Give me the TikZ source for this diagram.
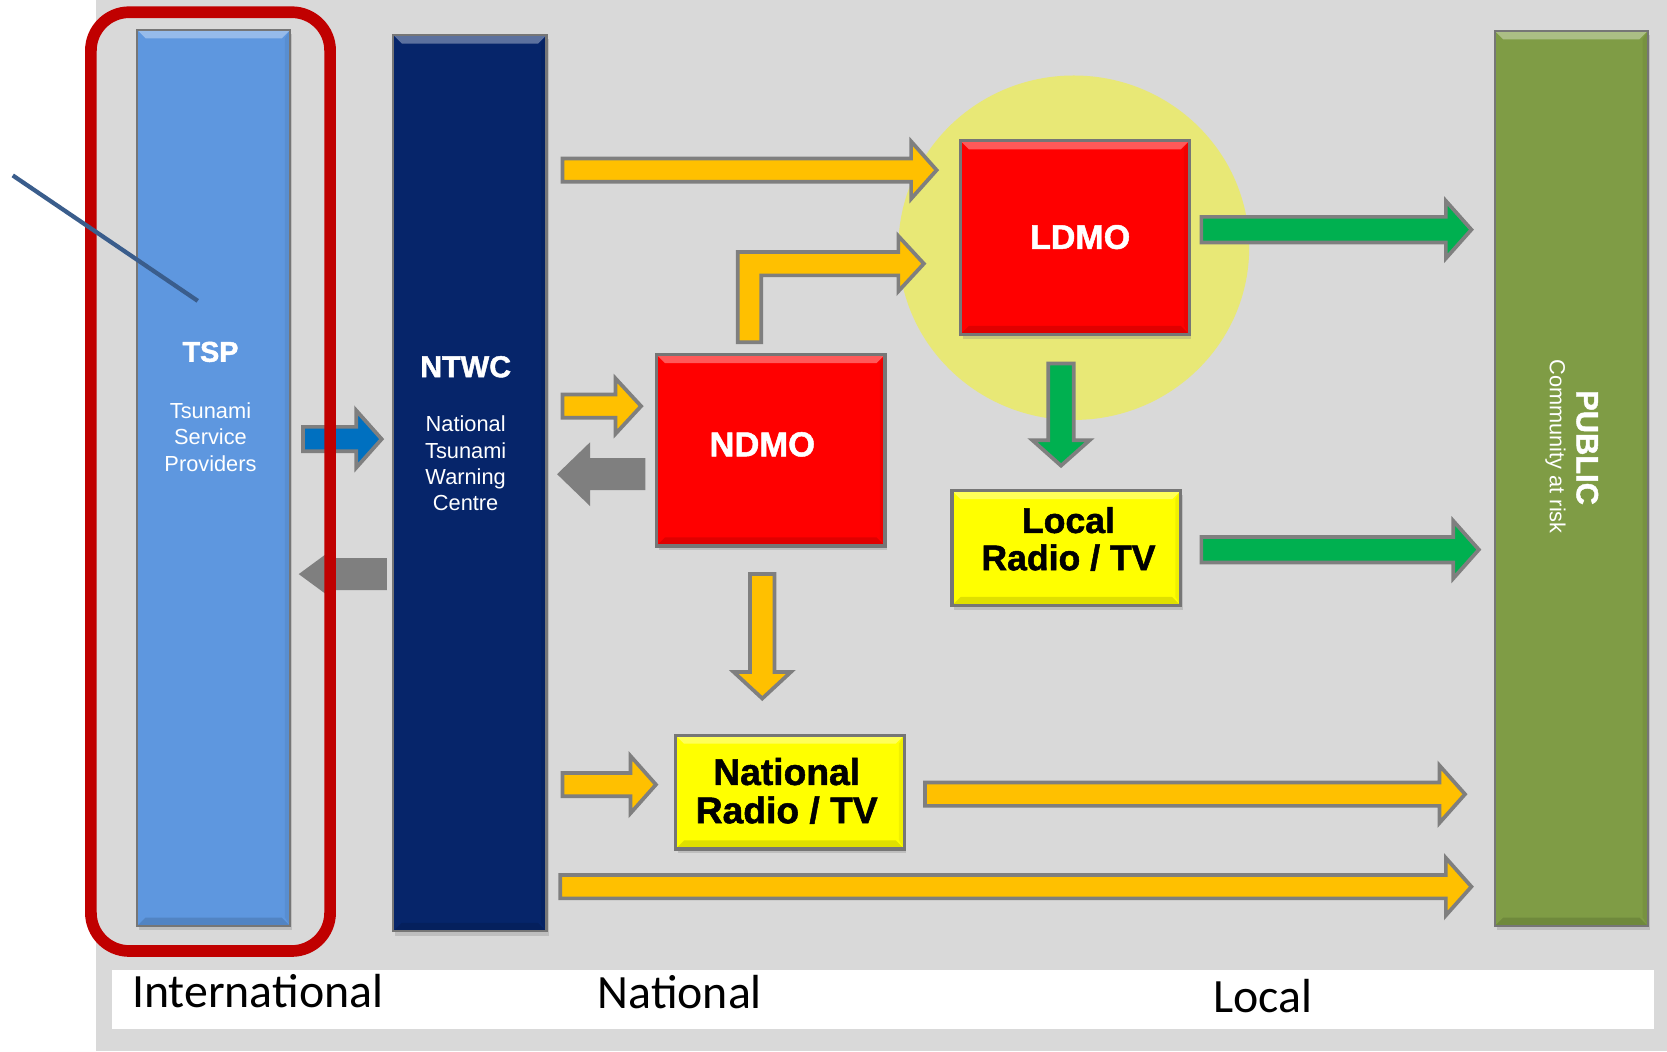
\documentclass[tikz,border=0pt]{standalone}
\usepackage{fontspec}
\setmainfont{Liberation Sans}[BoldFeatures={FakeBold=1.4}]
\newfontfamily\labelfont{Carlito}
\usetikzlibrary{calc,shadows}

\definecolor{bggray}{HTML}{D9D9D9}
\definecolor{tspblue}{HTML}{5E97DF}
\definecolor{ntwcnavy}{HTML}{06256A}
\definecolor{pubgreen}{HTML}{7F9C45}
\definecolor{boxred}{HTML}{FF0000}
\definecolor{boxyellow}{HTML}{FFFF00}
\definecolor{zoneyellow}{HTML}{E8E876}
\definecolor{arrorange}{HTML}{FFC000}
\definecolor{arrgreen}{HTML}{00B050}
\definecolor{arrblue}{HTML}{0070C0}
\definecolor{arrgray}{HTML}{7F7F7F}
\definecolor{framered}{HTML}{C00000}
\definecolor{slashblue}{HTML}{3A5D8C}
\definecolor{edgegray}{HTML}{767676}

% block arrow from coordinate #2 to coordinate #3:
% #4 half shaft width, #5 half head width, #6 head length
\newcommand{\blockarrow}[6][]{%
  \path[#1] let \p1=(#2), \p2=(#3), \n1={atan2(\y2-\y1,\x2-\x1)} in
    ($(#2)+({\n1+90}:#4)$)
    -- ($(#3)+({\n1+180}:#6)+({\n1+90}:#4)$)
    -- ($(#3)+({\n1+180}:#6)+({\n1+90}:#5)$)
    -- (#3)
    -- ($(#3)+({\n1+180}:#6)+({\n1-90}:#5)$)
    -- ($(#3)+({\n1+180}:#6)+({\n1-90}:#4)$)
    -- ($(#2)+({\n1-90}:#4)$) -- cycle;}

\newcommand{\fsz}[2]{\fontsize{#1}{#2}\selectfont}

\begin{document}
\begin{tikzpicture}[x=1pt,y=-1pt,
  bevel/.style={path picture={
    \fill[white,opacity=.35] (path picture bounding box.north west) -- (path picture bounding box.north east)
      -- ([shift={(-8pt,-8pt)}]path picture bounding box.north east) -- ([shift={(8pt,-8pt)}]path picture bounding box.north west) -- cycle;
    \fill[black,opacity=.12] (path picture bounding box.south west) -- (path picture bounding box.south east)
      -- ([shift={(-8pt,8pt)}]path picture bounding box.south east) -- ([shift={(8pt,8pt)}]path picture bounding box.south west) -- cycle;
    \fill[black,opacity=.06] (path picture bounding box.north east) -- (path picture bounding box.south east)
      -- ([shift={(-5pt,8pt)}]path picture bounding box.south east) -- ([shift={(-5pt,-8pt)}]path picture bounding box.north east) -- cycle;}},
  shade3d/.style={drop shadow={shadow xshift=2pt,shadow yshift=-4pt,opacity=.3}},
  bar/.style={draw=edgegray,line width=2pt,anchor=north west,inner sep=0pt,
    minimum width=144pt,shade3d,bevel},
  box/.style={draw=edgegray,line width=3pt,anchor=north west,inner sep=0pt,
    minimum width=215pt,shade3d,bevel},
  wtext/.style={text=white,align=center,inner sep=0pt},
  btext/.style={text=black,align=center,inner sep=0pt},
  orangearr/.style={fill=arrorange,draw=arrgray,line width=3.5pt,line join=miter},
  greenarr/.style={fill=arrgreen,draw=arrgray,line width=3.5pt,line join=miter},
  bluearr/.style={fill=arrblue,draw=arrgray,line width=3.5pt,line join=miter},
  grayarr/.style={fill=arrgray},
  levellabel/.style={anchor=base west,inner sep=0pt,font=\labelfont\fsz{45}{50}}
]
\useasboundingbox (0,0) rectangle (1568,989);
\fill[white] (0,0) rectangle (1568,989);
\fill[bggray] (90,0) rectangle (1568,989);

% level strip
\fill[white] (105,912) rectangle (1556,968);
\node[levellabel] (lvl-int) at (124,948) {International};
\node[levellabel] (lvl-nat) at (562,949) {National};
\node[levellabel] (lvl-loc) at (1141,952) {Local};

% local zone
\fill[zoneyellow] (1010,233) ellipse [x radius=165pt, y radius=162pt];

% columns
\node[bar,fill=tspblue,minimum height=843pt] (tsp) at (128,27) {};
\node[bar,fill=ntwcnavy,minimum height=843pt] (ntwc) at (369,32) {};
\node[bar,fill=pubgreen,minimum height=842pt] (public) at (1405,28) {};

% agencies and media
\node[box,fill=boxred,minimum height=182pt] (ldmo) at (902,131) {};
\node[box,fill=boxred,minimum height=180pt] (ndmo) at (616,332) {};
\node[box,fill=boxyellow,minimum height=108pt] (locrad) at (894,460) {};
\node[box,fill=boxyellow,minimum height=107pt] (natrad) at (634,690) {};

% texts
\node[wtext,font=\bfseries\fsz{27}{32}] (tsp-t) at (198,331) {TSP};
\node[wtext,font=\fsz{20.5}{25}] (tsp-s) at (198,411) {Tsunami\\Service\\Providers};
\node[wtext,font=\bfseries\fsz{28.5}{33}] (ntwc-t) at (438,345) {NTWC};
\node[wtext,font=\fsz{20.5}{24.7}] (ntwc-s) at (438,436) {National\\Tsunami\\Warning\\Centre};
\node[wtext,font=\bfseries\fsz{32}{36}] (ldmo-t) at (1016,223) {LDMO};
\node[wtext,font=\bfseries\fsz{32.5}{36}] (ndmo-t) at (717,418) {NDMO};
\node[btext,font=\bfseries\fsz{33.5}{35}] (locrad-t) at (1005,507) {Local\\Radio / TV};
\node[btext,font=\bfseries\fsz{35}{36}] (natrad-t) at (740,744) {National\\Radio / TV};
\node[wtext,font=\bfseries\fsz{29}{33},rotate=-90] (public-t) at (1493,421) {PUBLIC};
\node[wtext,font=\fsz{20.5}{24},rotate=-90] (public-s) at (1463,420) {Community at risk};

% connector end points
\coordinate (a1s) at (529,160);  \coordinate (a1e) at (881,160);
\coordinate (a2s) at (529,382);  \coordinate (a2e) at (603,382);
\coordinate (a3s) at (607,446);  \coordinate (a3e) at (524,446);
\coordinate (a4s) at (717,540);  \coordinate (a4e) at (717,657);
\coordinate (a5s) at (529,738);  \coordinate (a5e) at (617,738);
\coordinate (a6s) at (870,747);  \coordinate (a6e) at (1378,747);
\coordinate (a7s) at (527,834);  \coordinate (a7e) at (1384,834);
\coordinate (g1s) at (1130,216); \coordinate (g1e) at (1384,216);
\coordinate (g2s) at (998,342);  \coordinate (g2e) at (998,438);
\coordinate (g3s) at (1130,517); \coordinate (g3e) at (1391,517);
\coordinate (b1s) at (285,413);  \coordinate (b1e) at (359,413);
\coordinate (r1s) at (364,540);  \coordinate (r1e) at (281,540);
\coordinate (elb-s) at (705,322); \coordinate (elb-e) at (869,248);

% national flows
\blockarrow[orangearr]{a1s}{a1e}{11pt}{27pt}{24pt}
\blockarrow[orangearr]{a2s}{a2e}{11pt}{26pt}{24pt}
\blockarrow[grayarr]{a3s}{a3e}{15pt}{30pt}{31pt}
\blockarrow[orangearr]{a4s}{a4e}{11.5pt}{27pt}{25pt}
\blockarrow[orangearr]{a5s}{a5e}{11pt}{27pt}{24pt}
\blockarrow[orangearr]{a6s}{a6e}{11pt}{27pt}{24pt}
\blockarrow[orangearr]{a7s}{a7e}{11pt}{27pt}{24pt}
\path[orangearr] ($(elb-s)+(-11,0)$) -- ($(elb-s|-elb-e)+(-11,-11)$) -- ($(elb-e)+(-24,-11)$)
  -- ($(elb-e)+(-24,-26)$) -- (elb-e) -- ($(elb-e)+(-24,26)$) -- ($(elb-e)+(-24,11)$)
  -- ($(elb-s|-elb-e)+(11,11)$) -- ($(elb-s)+(11,0)$) -- cycle;

% local flows
\blockarrow[greenarr]{g1s}{g1e}{12pt}{27pt}{24pt}
\blockarrow[greenarr]{g2s}{g2e}{12pt}{27pt}{24pt}
\blockarrow[greenarr]{g3s}{g3e}{12pt}{27pt}{24pt}

% international flows
\blockarrow[bluearr]{b1s}{b1e}{11.5pt}{27pt}{24pt}
\blockarrow[grayarr]{r1s}{r1e}{15pt}{25pt}{34pt}

% international frame
\draw[framered,line width=11pt,rounded corners=36pt] (85.5,11.5) rectangle (310.5,894.5);

% pointer line
\coordinate (slash-a) at (12,165);
\coordinate (slash-b) at (186,283);
\draw[slashblue,line width=4pt] (slash-a) -- (slash-b);
\end{tikzpicture}
\end{document}
